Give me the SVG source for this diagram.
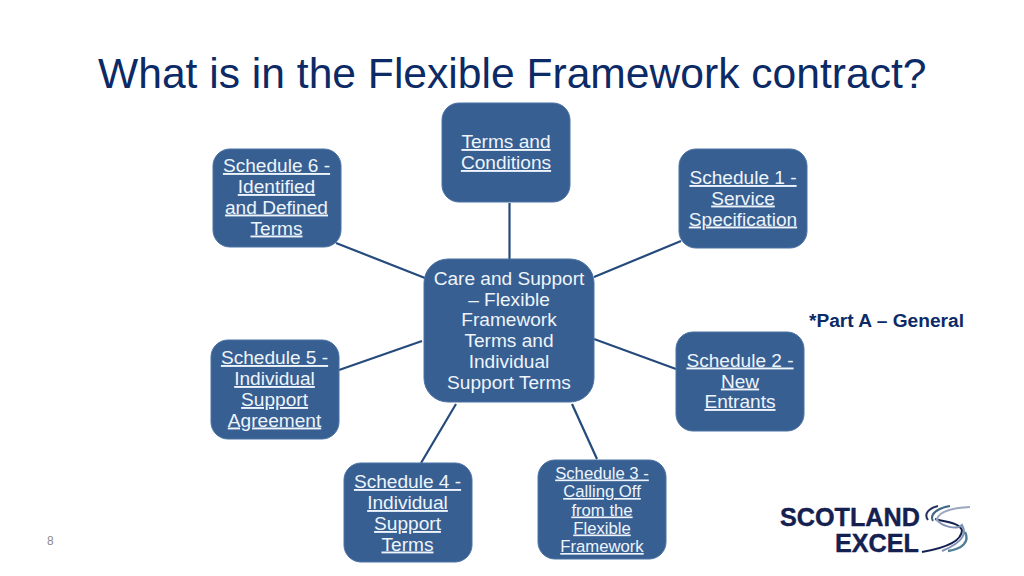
<svg xmlns="http://www.w3.org/2000/svg" width="1024" height="576" viewBox="0 0 1024 576">
<style>
text{font-family:"Liberation Sans",Arial,sans-serif}
.box{fill:#375f92;stroke:#4a72a4;stroke-width:1}
.t{fill:#eef4fb;font-size:19.1px;text-anchor:middle}
.u{text-decoration:underline}
.s{font-size:16.7px}
.c{stroke:#254a7c;stroke-width:2.2;fill:none}
</style>
<rect width="1024" height="576" fill="#ffffff"/>
<text id="title" x="98" y="88" font-size="42.600" fill="#0b2a66">What is in the Flexible Framework contract?</text>
<g id="connectors">
<line class="c" x1="509.500" y1="203" x2="509.500" y2="259"/>
<line class="c" x1="336" y1="243" x2="425" y2="278"/>
<line class="c" x1="681" y1="241" x2="594" y2="277"/>
<line class="c" x1="339" y1="370" x2="422" y2="341"/>
<line class="c" x1="676" y1="369" x2="594" y2="339"/>
<line class="c" x1="421" y1="463" x2="456" y2="404"/>
<line class="c" x1="597" y1="459" x2="572" y2="404"/>
</g>
<g id="node-center"><rect class="box" x="424" y="259" width="170" height="143" rx="24"/>
<text class="t" x="509" y="284.500">Care and Support</text><text class="t" x="509" y="305.500">– Flexible</text><text class="t" x="509" y="326">Framework</text><text class="t" x="509" y="346.500">Terms and</text><text class="t" x="509" y="367.500">Individual</text><text class="t" x="509" y="388.500">Support Terms</text></g>
<g id="node-terms"><rect class="box" x="442" y="103" width="128" height="99" rx="17"/>
<text class="t u" x="506" y="148">Terms and</text><text class="t u" x="506" y="169">Conditions</text></g>
<g id="node-s6"><rect class="box" x="213" y="149" width="128" height="98" rx="17"/>
<text class="t u" x="276.500" y="172">Schedule 6 -</text><text class="t u" x="276.500" y="193">Identified</text><text class="t u" x="276.500" y="213.500">and Defined</text><text class="t u" x="276.500" y="234.500">Terms</text></g>
<g id="node-s1"><rect class="box" x="679" y="149" width="128" height="99" rx="17"/>
<text class="t u" x="743" y="184">Schedule 1 -</text><text class="t u" x="743" y="204.500">Service</text><text class="t u" x="743" y="225.500">Specification</text></g>
<g id="node-s5"><rect class="box" x="211" y="340" width="128" height="99" rx="17"/>
<text class="t u" x="274.500" y="364">Schedule 5 -</text><text class="t u" x="274.500" y="385">Individual</text><text class="t u" x="274.500" y="406">Support</text><text class="t u" x="274.500" y="426.500">Agreement</text></g>
<g id="node-s2"><rect class="box" x="676" y="332" width="128" height="99" rx="17"/>
<text class="t u" x="740" y="366.500">Schedule 2 -</text><text class="t u" x="740" y="387.500">New</text><text class="t u" x="740" y="408">Entrants</text></g>
<g id="node-s4"><rect class="box" x="344" y="463" width="128" height="99" rx="17"/>
<text class="t u" x="407.500" y="488">Schedule 4 -</text><text class="t u" x="407.500" y="509">Individual</text><text class="t u" x="407.500" y="530">Support</text><text class="t u" x="407.500" y="550.500">Terms</text></g>
<g id="node-s3"><rect class="box" x="538" y="460" width="128" height="99" rx="17"/>
<text class="t u s" x="602" y="478.500">Schedule 3 -</text><text class="t u s" x="602" y="497">Calling Off</text><text class="t u s" x="602" y="515.500">from the</text><text class="t u s" x="602" y="533.500">Flexible</text><text class="t u s" x="602" y="552">Framework</text></g>
<text id="note" x="809" y="327" font-size="19.200" font-weight="bold" fill="#0b2a66" textLength="155" lengthAdjust="spacingAndGlyphs">*Part A – General</text>
<text id="page" x="47" y="544.500" font-size="12" fill="#8a8a8a">8</text>
<g id="logo">
<text x="780" y="525.500" font-size="25.200" font-weight="bold" fill="#14204f" stroke="#14204f" stroke-width=".4">SCOTLAND</text>
<text x="835" y="551.500" font-size="25.200" font-weight="bold" fill="#14204f" stroke="#14204f" stroke-width=".4">EXCEL</text>
<path d="M935 519C945 522 958 522 962 530C962 541 945 548 922 552" fill="none" stroke="#14204f" stroke-width="2"/>
<path d="M936 519C942 527 957 530 962 525C966 532 966 541 942 551" fill="none" stroke="#7f92b4" stroke-width="2"/>
<path d="M948 551C962 549 970 542 965 532" fill="none" stroke="#4f7f96" stroke-width="2.500"/>
<path d="M928 520C923 513 930 508 938 506" fill="none" stroke="#27305c" stroke-width="2"/>
<path d="M933 521C929 514 938 508 950 506" fill="none" stroke="#3f6784" stroke-width="2"/>
<path d="M938 522C934 514 948 508 970 507" fill="none" stroke="#9aa8c0" stroke-width="2"/>
</g>
</svg>
